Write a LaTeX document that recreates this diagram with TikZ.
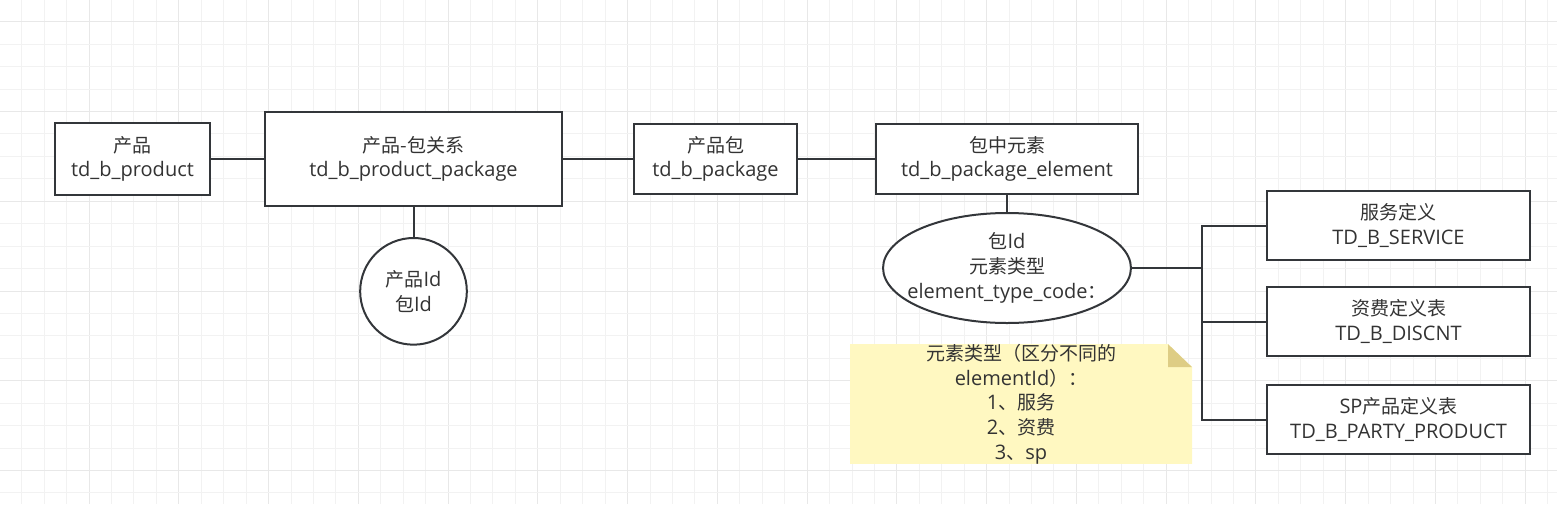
\documentclass[tikz,border=0pt]{standalone}
\usepackage{fontspec}
\setmainfont{Open Sans}
\newfontfamily\cjk[Scale=0.95]{Noto Sans CJK SC}
\usepackage{tikz}
\usetikzlibrary{positioning, shapes.geometric}

\definecolor{ink}{HTML}{33363A}
\definecolor{txt}{HTML}{333333}
\definecolor{gridlo}{HTML}{F2F2F2}
\definecolor{gridhi}{HTML}{E8E8E8}
\definecolor{memofill}{HTML}{FFF8C1}
\definecolor{memofold}{HTML}{DECD85}
\pgfdeclarelayer{paper}
\pgfdeclarelayer{behind}
\pgfsetlayers{paper,behind,main}

\begin{document}
\begin{tikzpicture}[x=0.75pt, y=-0.75pt, color=ink, text=txt,
                    font=\fontsize{15pt}{18.5pt}\selectfont]
  \tikzstyle{table}=[draw, rectangle, fill=white, line width=1.5pt, inner sep=0pt, outer sep=0pt, align=center]
  \tikzstyle{keyset}=[draw, fill=white, line width=1.5pt, inner sep=0pt, outer sep=0pt, align=center]
  \tikzstyle{memo}=[inner sep=0pt, outer sep=0pt, align=center, minimum width=256.5pt, minimum height=88.5pt]
  \tikzstyle{link}=[draw, line width=1.5pt]

  \useasboundingbox (0,0) rectangle (1557,504);
  \begin{pgfonlayer}{paper}
    \fill[white] (0,0) rectangle (1557,504);
    \foreach \k in {0,...,70} {
      \pgfmathsetmacro\gx{-0.7+22.44*\k}
      \pgfmathtruncatemacro\m{mod(\k,4)}
      \ifnum\m=0 \def\gc{gridhi}\else\def\gc{gridlo}\fi
      \draw[\gc, line width=0.75pt] (\gx,0) -- (\gx,504);
    }
    \foreach \k in {0,...,23} {
      \pgfmathsetmacro\gy{-0.7+22.44*\k}
      \pgfmathtruncatemacro\m{mod(\k,4)}
      \ifnum\m=1 \def\gc{gridhi}\else\def\gc{gridlo}\fi
      \draw[\gc, line width=0.75pt] (0,\gy) -- (1557,\gy);
    }
  \end{pgfonlayer}

  \node[table, minimum width=116.25pt, minimum height=54pt]   (prod) at (132.5,159)    {{\cjk 产品}\\td\_b\_product};
  \node[table, minimum width=222.75pt, minimum height=70.5pt] (rel)  [right=41.25pt of prod] {{\cjk 产品-包关系}\\td\_b\_product\_package};
  \node[table, minimum width=122.25pt, minimum height=52.5pt] (pkg)  [right=54pt of rel]    {{\cjk 产品包}\\td\_b\_package};
  \node[table, minimum width=196.5pt, minimum height=52.5pt]  (elem) [right=59.25pt of pkg]  {{\cjk 包中元素}\\td\_b\_package\_element};

  \node[keyset, circle, minimum size=80pt]                          (relkey)  [below=24pt of rel]     {{\cjk 产品}Id\\{\cjk 包}Id};
  \node[keyset, ellipse, inner xsep=-9pt, minimum width=181.5pt, minimum height=82.5pt] (elemkey) [below=14.25pt of elem] {{\cjk 包}Id\\{\cjk 元素类型}\\element\_type\_code{\cjk ：}};

  \node[table, minimum width=197.25pt, minimum height=51.75pt] (svc)   at (1398.5,225.5)      {{\cjk 服务定义}\\TD\_B\_SERVICE};
  \node[table, minimum width=197.25pt, minimum height=51.75pt] (dis)   [below=20.25pt of svc] {{\cjk 资费定义表}\\TD\_B\_DISCNT};
  \node[table, minimum width=197.25pt, minimum height=51.75pt] (party) [below=21.75pt of dis] {SP{\cjk 产品定义表}\\TD\_B\_PARTY\_PRODUCT};

  \node[memo] (hint) at (1021,404) {{\cjk 元素类型（区分不同的}\\elementId{\cjk ）：}\\1{\cjk 、服务}\\2{\cjk 、资费}\\3{\cjk 、}sp};
  \begin{pgfonlayer}{behind}
    \fill[memofill] (hint.north west) -- ([xshift=-18pt]hint.north east) -- ([yshift=-17.25pt]hint.north east)
                    -- (hint.south east) -- (hint.south west) -- cycle;
    \fill[memofold] ([xshift=-18pt]hint.north east) -- ([xshift=-18pt, yshift=-17.25pt]hint.north east)
                    -- ([yshift=-17.25pt]hint.north east) -- cycle;
  \end{pgfonlayer}

  \path[link] (prod) -- (rel);
  \path[link] (rel) -- (pkg);
  \path[link] (pkg) -- (elem);
  \path[link] (rel) -- (relkey);
  \path[link] (elem) -- (elemkey);
  \path[link] (elemkey.east) -- ++(71,0) coordinate (bus);
  \path[link] (svc.west) -| (bus) |- (party.west);
  \path[link] (dis.west) -- (dis.west -| bus);
\end{tikzpicture}
\end{document}
